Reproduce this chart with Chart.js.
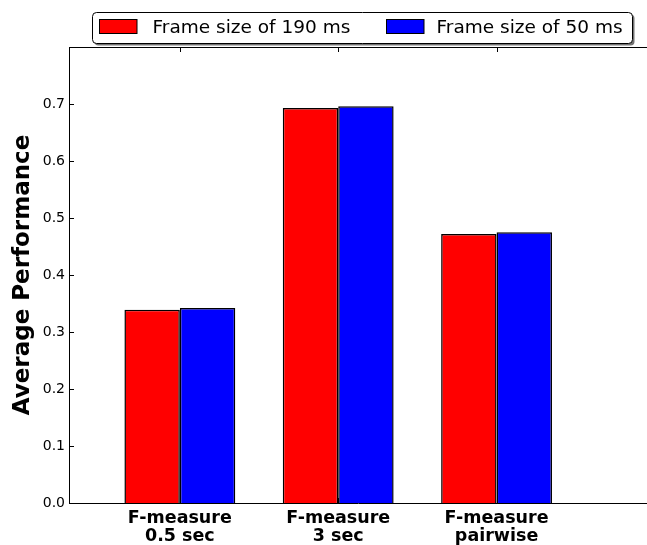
<!DOCTYPE html>
<html>
<head>
<meta charset="utf-8">
<script src="https://cdn.jsdelivr.net/npm/chart.js@4.4.0/dist/chart.umd.min.js"></script>
<style>
    html, body { margin: 0; padding: 0; background: #fff; overflow: hidden; }
</style>
</head>
<body>
<canvas id="chart" width="647" height="545"></canvas>
<script>
// Categorias do eixo x (duas linhas cada)
const categories = [['F-measure', '0.5 sec'], ['F-measure', '3 sec'], ['F-measure', 'pairwise']];
const seriesNames = ['Frame size of 190 ms', 'Frame size of 50 ms'];
const frame190 = [0.339, 0.693, 0.472];
const frame50 = [0.342, 0.696, 0.475];
const yTicks = [0.0, 0.1, 0.2, 0.3, 0.4, 0.5, 0.6, 0.7];
const seriesColors = ['#ff0000', '#0000ff'];

const positions = categories.map((c, i) => i);

// Marcas de escala para dentro + linha superior
const innerTicks = {
    id: 'innerTicks',
    afterDatasetsDraw(chart) {
        const { ctx, chartArea: a, scales: { x, y } } = chart;
        ctx.save();
        ctx.strokeStyle = '#000';
        ctx.lineWidth = 1;
        ctx.beginPath();
        y.ticks.forEach(t => {
            const py = Math.round(y.getPixelForValue(t.value)) + 0.5;
            ctx.moveTo(a.left, py);
            ctx.lineTo(a.left + 5, py);
        });
        x.ticks.forEach(t => {
            const px = Math.round(x.getPixelForValue(t.value)) + 0.5;
            ctx.moveTo(px, a.top);
            ctx.lineTo(px, a.top + 5);
            ctx.moveTo(px, a.bottom);
            ctx.lineTo(px, a.bottom - 5);
        });
        ctx.moveTo(a.left, a.top + 0.5);
        ctx.lineTo(a.right, a.top + 0.5);
        ctx.stroke();
        ctx.restore();
    }
};

// Legenda com caixa e sombra
const boxLegend = {
    id: 'boxLegend',
    afterDraw(chart) {
        const ctx = chart.ctx;
        const items = chart.data.datasets;
        const swatchX = [99.5, 386.5];
        const textX = [152.5, 436.5];
        const left = 92.5, right = 632.5, top = 12.5, h = 31;
        ctx.save();
        ctx.font = '18.5px "DejaVu Sans"';
        ctx.fillStyle = 'rgba(0,0,0,0.55)';
        ctx.beginPath();
        ctx.roundRect(left + 2, top + 2, right - left, h, 4);
        ctx.fill();
        ctx.fillStyle = '#fff';
        ctx.strokeStyle = '#000';
        ctx.lineWidth = 1;
        ctx.beginPath();
        ctx.roundRect(left, top, right - left, h, 4);
        ctx.fill();
        ctx.stroke();
        items.forEach((ds, i) => {
            ctx.fillStyle = ds.backgroundColor;
            ctx.fillRect(swatchX[i], top + 7, 37.5, 14);
            ctx.strokeRect(swatchX[i], top + 7, 37.5, 14);
            ctx.fillStyle = '#000';
            ctx.textBaseline = 'alphabetic';
            ctx.fillText(ds.label, textX[i], 32.7);
        });
        ctx.restore();
    }
};

new Chart(document.getElementById('chart'), {
    type: 'bar',
    data: {
        datasets: [
            {
                label: seriesNames[0],
                data: frame190.map((v, i) => ({ x: positions[i], y: v })),
                backgroundColor: seriesColors[0],
                borderColor: '#000',
                borderWidth: 1.5,
                categoryPercentage: 0.7,
                barPercentage: 1.0,
            },
            {
                label: seriesNames[1],
                data: frame50.map((v, i) => ({ x: positions[i], y: v })),
                backgroundColor: seriesColors[1],
                borderColor: '#000',
                borderWidth: 1.5,
                categoryPercentage: 0.7,
                barPercentage: 1.0,
            },
        ],
    },
    options: {
        responsive: false,
        animation: false,
        layout: { padding: { top: 47, left: 0, right: 0, bottom: 0 } },
        plugins: { legend: { display: false }, tooltip: { enabled: false } },
        scales: {
            x: {
                type: 'linear',
                offset: false,
                min: -0.7,
                max: 2.95,
                grid: { display: false, drawTicks: false },
                border: { display: true, color: '#000', width: 1 },
                afterBuildTicks: s => { s.ticks = positions.map(v => ({ value: v })); },
                afterFit: s => { s.height = 42; },
                ticks: {
                    callback: v => categories[v],
                    font: { family: 'DejaVu Sans', size: 17.5, weight: 'bold', lineHeight: 1.05 },
                    color: '#000',
                    padding: 6,
                    maxRotation: 0,
                    autoSkip: false,
                },
            },
            y: {
                min: 0,
                max: 0.8,
                grid: { display: false, drawTicks: false },
                border: { display: true, color: '#000', width: 1 },
                afterBuildTicks: s => { s.ticks = yTicks.map(v => ({ value: v })); },
                afterFit: s => { s.width = 69; },
                ticks: {
                    callback: v => v.toFixed(1),
                    font: { family: 'DejaVu Sans', size: 14 },
                    color: '#000',
                    padding: 4,
                },
                title: {
                    display: true,
                    text: 'Average Performance',
                    font: { family: 'DejaVu Sans', size: 23, weight: 'bold' },
                    color: '#000',
                    padding: { top: 9, bottom: 0 },
                },
            },
        },
    },
    plugins: [innerTicks, boxLegend],
});
</script>
</body>
</html>
